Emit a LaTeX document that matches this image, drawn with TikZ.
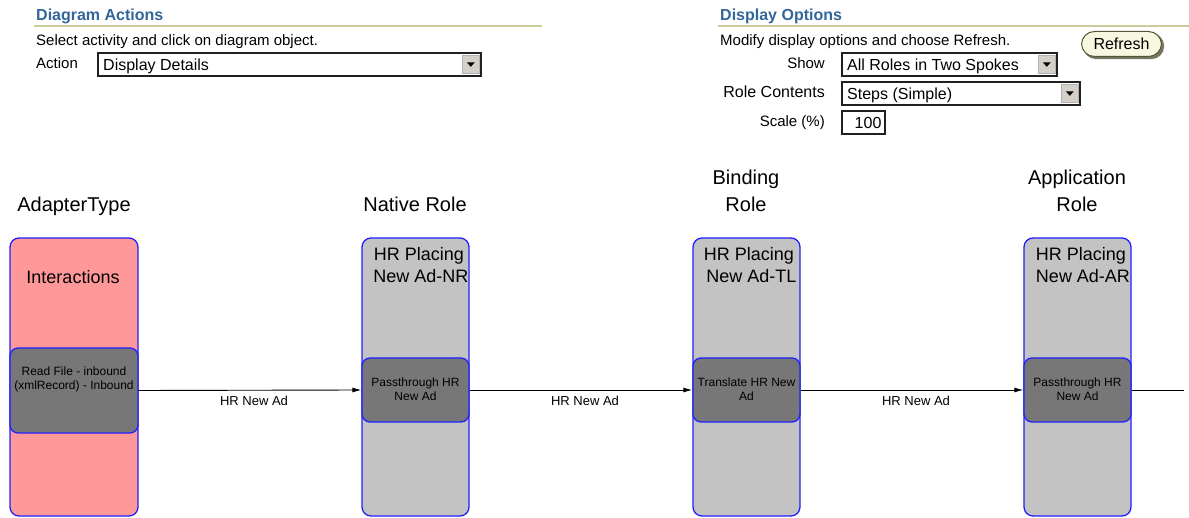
\documentclass[tikz,border=0pt]{standalone}
\usepackage{fontspec}
\setmainfont{Liberation Sans}
\usetikzlibrary{arrows.meta,calc}
\definecolor{headblue}{HTML}{336699}
\definecolor{rulecol}{HTML}{CCCC99}
\definecolor{lanepink}{HTML}{FF9999}
\definecolor{lanegray}{HTML}{C3C3C3}
\definecolor{stepgray}{HTML}{777777}
\definecolor{laneblue}{HTML}{2020FF}
\definecolor{btnfill}{HTML}{F8F8E0}
\definecolor{btnedge}{HTML}{55553A}
\definecolor{btngray}{HTML}{D4D0C8}
\definecolor{fieldedge}{HTML}{202020}
\newcommand{\ddbox}[6]{%
  \node[field, minimum width=#4-#2, minimum height=#5-#3] (#1) at (#2,#3) {};
  \node[ddtext] (#1-t) at ($(#1.west)+(6,0)$) {#6};
  \node[ddbtn] (#1-b) at ($(#1.east)+(-2,0)$) {};
  \fill ($(#1-b.center)+(-4,-2)$) -- ($(#1-b.center)+(4,-2)$) -- ($(#1-b.center)+(0,2.5)$) -- cycle;
}
\begin{document}
\begin{tikzpicture}[x=1pt,y=-1pt,
  txt/.style={inner sep=0pt, font=\fontsize{15}{17}\selectfont, text height=11pt, text depth=0pt},
  head/.style={inner sep=0pt, anchor=west, font=\fontsize{16}{18}\selectfont\bfseries, text=headblue, text height=11.5pt, text depth=0pt},
  field/.style={rectangle, draw=fieldedge, line width=1.6pt, fill=white, inner sep=0pt, anchor=north west},
  ddtext/.style={inner sep=0pt, anchor=west, font=\fontsize{16}{18}\selectfont, text height=11.5pt, text depth=0pt},
  ddbtn/.style={rectangle, anchor=east, fill=btngray, draw=gray!60, line width=0.6pt, minimum width=17, minimum height=18, inner sep=0pt},
  colhead/.style={inner sep=0pt, align=center, font=\fontsize{20}{27}\selectfont},
  lane/.style={rectangle, draw=laneblue, line width=1.3pt, rounded corners=9pt, inner sep=0pt},
  stepbox/.style={rectangle, draw=laneblue, line width=1.3pt, rounded corners=8pt, fill=stepgray, inner sep=0pt},
  lanetitle/.style={inner sep=0pt, align=center, font=\fontsize{18}{22}\selectfont},
  steptext/.style={inner sep=0pt, align=center, font=\fontsize{12}{14}\selectfont},
  conn/.style={draw=black, line width=0.9pt},
  arr/.style={-{Latex[length=9pt,width=5pt]}},
  lbl/.style={inner sep=0pt, font=\fontsize{13}{15}\selectfont, text height=9.5pt, text depth=0pt}
]
\useasboundingbox (0,0) rectangle (1189,518);
\fill[white] (0,0) rectangle (1189,518);

% ---- Diagram Actions panel
\node[head] (dah) at (36,15) {Diagram Actions};
\coordinate (dal1) at (34,26);
\coordinate (dal2) at (542,26);
\draw[rulecol, line width=1.2pt] (dal1) -- (dal2);
\node[txt, anchor=west] (dasel) at (36,40) {Select activity and click on diagram object.};
\node[txt, anchor=west] (daact) at (36,63.5) {Action};
\ddbox{actdd}{97}{52}{480}{75}{Display Details}

% ---- Display Options panel
\node[head] (doh) at (720,15) {Display Options};
\coordinate (dol1) at (718,26);
\coordinate (dol2) at (1189,26);
\draw[rulecol, line width=1.2pt] (dol1) -- (dol2);
\node[txt, anchor=west] (domod) at (720,40) {Modify display options and choose Refresh.};
\node[rectangle, rounded corners=13pt, fill=btnedge!80, minimum width=81, minimum height=26, inner sep=0pt, anchor=north west] (refsh) at (1083,33) {};
\node[rectangle, rounded corners=13pt, draw=btnedge, line width=1pt, fill=btnfill, minimum width=80, minimum height=25, inner sep=0pt, anchor=north west, font=\fontsize{16}{18}\selectfont] (refresh) at (1081,31) {Refresh};
\node[txt, anchor=east] (doshow) at (825,63.5) {Show};
\ddbox{showdd}{841}{52}{1056}{75}{All Roles in Two Spokes}
\node[txt, anchor=east, font=\fontsize{16}{18}\selectfont] (dorole) at (825,92.5) {Role Contents};
\ddbox{roledd}{841}{81}{1079}{104}{Steps (Simple)}
\node[txt, anchor=east] (doscale) at (825,121.5) {Scale (\%)};
\node[field, minimum width=43, minimum height=23] (scalebox) at (841,110) {};
\node[ddtext, anchor=east] (scalet) at ($(scalebox.east)+(-4,0)$) {100};

% ---- column headings
\node[colhead] (h1) at (74,206) {AdapterType};
\node[colhead] (h2) at (415,204) {Native Role};
\node[colhead] (h3) at (746,191) {Binding\\Role};
\node[colhead] (h4) at (1077,191) {Application\\Role};

% ---- lanes
\node[lane, fill=lanepink, minimum width=128, minimum height=278] (lane1) at (74,377) {};
\node[lane, fill=lanegray, minimum width=107, minimum height=278] (lane2) at (415.5,377) {};
\node[lane, fill=lanegray, minimum width=107, minimum height=278] (lane3) at (746.5,377) {};
\node[lane, fill=lanegray, minimum width=107, minimum height=278] (lane4) at (1077.5,377) {};

\node[lanetitle] (lt1) at (73,277) {Interactions};
\node[lanetitle] (lt2) at (419,265) {HR Placing\\\hspace*{4pt}New Ad-NR};
\node[lanetitle] (lt3) at (749,265) {HR Placing\\\hspace*{5pt}New Ad-TL};
\node[lanetitle] (lt4) at (1081,265) {HR Placing\\\hspace*{4pt}New Ad-AR};

% ---- steps
\node[stepbox, minimum width=128, minimum height=85] (s1) at (74,390.5) {};
\node[stepbox, minimum width=107, minimum height=64] (s2) at (415.5,390) {};
\node[stepbox, minimum width=107, minimum height=64] (s3) at (746.5,390) {};
\node[stepbox, minimum width=107, minimum height=64] (s4) at (1077.5,390) {};

\node[steptext] (s1t) at (74,379) {Read File - inbound\\(xmlRecord) - Inbound};
\node[steptext] (s2t) at (415.5,389) {Passthrough HR\\New Ad};
\node[steptext] (s3t) at (746.5,389) {Translate HR New\\Ad};
\node[steptext] (s4t) at (1077.5,389) {Passthrough HR\\New Ad};

% ---- connectors
\draw[conn, arr] (s1.east) -- node[lbl, midway, xshift=4pt, yshift=-11pt] (c1) {HR New Ad} (s2.west);
\draw[conn, arr] (s2.east) -- node[lbl, midway, xshift=4pt, yshift=-11pt] (c2) {HR New Ad} (s3.west);
\draw[conn, arr] (s3.east) -- node[lbl, midway, xshift=4pt, yshift=-11pt] (c3) {HR New Ad} (s4.west);
\coordinate (exit) at (1184,390);
\draw[conn] (s4.east) -- (exit);
\end{tikzpicture}
\end{document}
